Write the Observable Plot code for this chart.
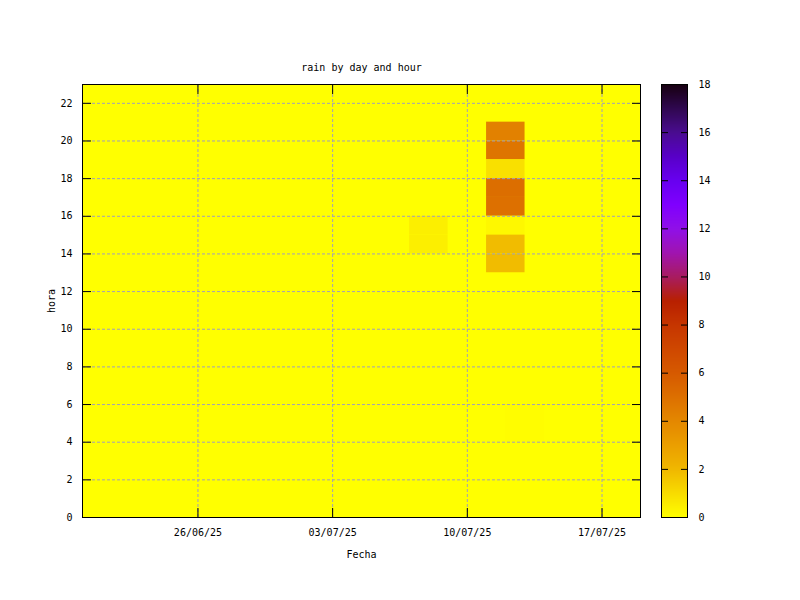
<!DOCTYPE html>
<html>
<head>
<meta charset="utf-8">
<script src="https://cdn.jsdelivr.net/npm/d3@7"></script>
<script src="https://cdn.jsdelivr.net/npm/@observablehq/plot@0.6"></script>
<style>
  body { margin: 0; background: #ffffff; }
  #chart { position: relative; width: 800px; height: 600px; }
  #chart svg { position: absolute; left: 0; top: 0; }
</style>
</head>
<body>
<div id="chart"></div>
<script>
// ---- data ----
const titleText = "rain by day and hour";
const xLabel = "Fecha";
const yLabel = "hora";
const xDomainDates = ["2025-06-20", "2025-07-19"];
const xTickDates = ["2025-06-26", "2025-07-03", "2025-07-10", "2025-07-17"];
const yDomain = [0, 23];
const yTicks = [0, 2, 4, 6, 8, 10, 12, 14, 16, 18, 20, 22];
const cbDomain = [0, 18];
const cbTicks = [0, 2, 4, 6, 8, 10, 12, 14, 16, 18];
const paletteStops = [0, 1, 2, 3, 4, 5, 6, 7, 8, 9, 10, 11, 12, 13, 14, 15, 16, 17, 18];
const paletteColors = ["#ffff00", "#f8dc00", "#f0b800", "#eb9f00", "#e48800", "#dd7000",
  "#d65a00", "#cf4800", "#c63600", "#b82000", "#a81c60", "#a014b0", "#9010e8",
  "#8000ff", "#6800f0", "#5800c8", "#4a0c90", "#300850", "#180010"];
const cellDates  = ["2025-07-12", "2025-07-12", "2025-07-12", "2025-07-12", "2025-07-12", "2025-07-12", "2025-07-12", "2025-07-12",
                    "2025-07-08", "2025-07-08", "2025-07-13", "2025-07-13"];
const cellHours  = [20, 19, 18, 17, 16, 15, 14, 13, 15, 14, 5, 4];
const cellValues = [4.3, 4.8, 0.9, 5.1, 5.0, 0.2, 1.9, 1.9, 0.45, 0.45, 0.05, 0.05];

// ---- build ----
const DAY = 24 * 3600 * 1000;
const cells = cellDates.map((d, i) => ({date: new Date(d), hour: cellHours[i], value: cellValues[i]}));
const xDomain = xDomainDates.map(d => new Date(d));
const xTicks = xTickDates.map(d => new Date(d));
const colorOpts = {type: "linear", domain: paletteStops, range: paletteColors, clamp: true};
const gridStyle = {stroke: "#a0a0b8", strokeOpacity: 1, strokeDasharray: "3,2", strokeWidth: 1};
const font = {fontFamily: "'DejaVu Sans Mono', monospace", fontSize: "10px", background: "transparent", color: "black"};

const main = Plot.plot({
  width: 800, height: 600,
  marginLeft: 82, marginRight: 160, marginTop: 84, marginBottom: 83,
  style: font,
  x: {type: "utc", domain: xDomain},
  y: {domain: yDomain},
  color: colorOpts,
  marks: [
    Plot.frame({fill: paletteColors[0]}),
    Plot.rect(cells, {
      x1: d => new Date(+d.date - DAY), x2: d => new Date(+d.date + DAY),
      y1: "hour", y2: d => d.hour + 1, fill: "value"
    }),
    Plot.gridX(xTicks, gridStyle),
    Plot.gridY(yTicks, gridStyle),
    Plot.frame({stroke: "black", strokeWidth: 1}),
    Plot.axisX({anchor: "bottom", ticks: xTicks, tickFormat: d3.utcFormat("%d/%m/%y"), tickSize: 9, inset: 9, tickPadding: 11,
      label: xLabel, labelAnchor: "center", labelArrow: "none", labelOffset: 40}),
    Plot.axisX({anchor: "top", ticks: xTicks, tickFormat: () => "", tickSize: 9, inset: 9, label: null}),
    Plot.axisY({anchor: "left", ticks: yTicks, tickSize: 9, inset: 9, tickPadding: 10,
      label: yLabel, labelAnchor: "center", labelArrow: "none", labelOffset: 35}),
    Plot.axisY({anchor: "right", ticks: yTicks, tickFormat: () => "", tickSize: 9, inset: 9, label: null}),
    Plot.text([titleText], {frameAnchor: "top", dy: -21, fontSize: 10})
  ]
});

const bar = Plot.plot({
  width: 800, height: 600,
  marginLeft: 661, marginRight: 113, marginTop: 84, marginBottom: 83,
  style: font,
  x: {domain: [0, 1], axis: null},
  y: {domain: cbDomain},
  color: colorOpts,
  marks: [
    Plot.raster({x1: 0, x2: 1, y1: cbDomain[0], y2: cbDomain[1], fill: (x, y) => y, interpolate: "none"}),
    Plot.frame({stroke: "black", strokeWidth: 1}),
    Plot.axisY({anchor: "right", ticks: cbTicks, tickSize: 7, inset: 7, tickPadding: 11, label: null}),
    Plot.axisY({anchor: "left", ticks: cbTicks, tickFormat: () => "", tickSize: 7, inset: 7, label: null})
  ]
});

const chart = document.getElementById("chart");
chart.appendChild(main);
chart.appendChild(bar);
</script>
</body>
</html>
